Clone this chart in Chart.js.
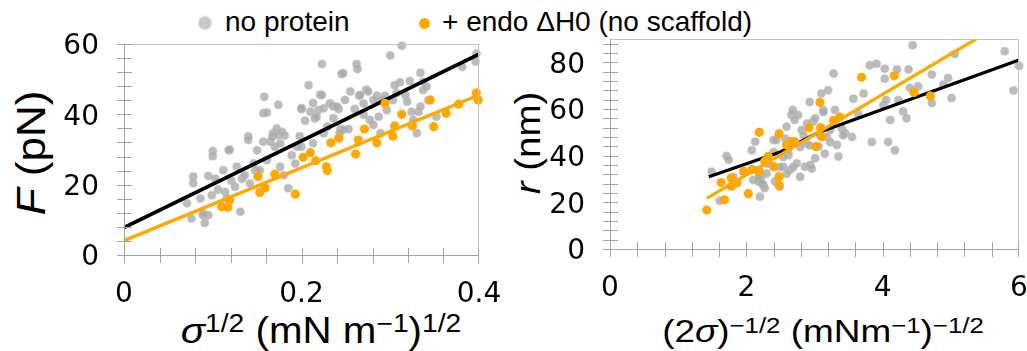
<!DOCTYPE html>
<html>
<head>
<meta charset="utf-8">
<script src="https://cdn.jsdelivr.net/npm/chart.js@4.4.1/dist/chart.umd.min.js"></script>
<style>
  html, body { margin: 0; padding: 0; background: #fff; }
  #wrap { position: relative; width: 1027px; height: 351px; overflow: hidden;
          font-family: "Liberation Sans", Arial, sans-serif; color: #000; }
  .box { position: absolute; top: 0; height: 351px; z-index: 2; }
  .txt { position: absolute; white-space: nowrap; line-height: 1; z-index: 1; }
  .txt sup { font-size: 0.7em; vertical-align: baseline; position: relative; top: -0.42em; }
  .dot { position: absolute; border-radius: 50%; z-index: 1; }
  .ax { position: absolute; z-index: 3; }
</style>
</head>
<body>
<div id="wrap">
  <div class="dot" style="left:199px;top:17px;width:12px;height:12px;background:#c8c8c8;box-shadow:0 0 2px 1px #dadada"></div>
  <div class="txt" style="left:225px;top:8px;font-size:28px">no protein</div>
  <div class="dot" style="left:419px;top:18px;width:11px;height:11px;background:#ffa800"></div>
  <div class="txt" style="left:442px;top:8px;font-size:28px">+ endo ΔH0 (no scaffold)</div>

  <div class="txt" style="left:31px;top:153px;font-size:40px;transform:translate(-50%,-50%) rotate(-90deg) scaleX(1.1)"><i>F</i> (pN)</div>
  <div class="txt" style="left:527px;top:143px;font-size:35px;transform:translate(-50%,-50%) rotate(-90deg) scaleX(1.1)"><i>r</i> (nm)</div>
  <div class="txt" style="left:321px;top:331px;font-size:36px;transform:translate(-50%,-50%) scaleX(1.12)"><i>σ</i><sup>1/2</sup> (mN m<sup>−1</sup>)<sup>1/2</sup></div>
  <div class="txt" style="left:823px;top:331px;font-size:31px;transform:translate(-50%,-50%) scaleX(1.19)">(2<i>σ</i>)<sup>−1/2</sup> (mNm<sup>−1</sup>)<sup>−1/2</sup></div>

  <div class="box" style="left:0;width:500px"><canvas id="leftChart"></canvas></div>
  <div class="box" style="left:500px;width:527px"><canvas id="rightChart"></canvas></div>
</div>

<script>
// left panel: F vs sigma^1/2
const leftGrayX = [0.071, 0.076, 0.078, 0.078, 0.086, 0.089, 0.091, 0.095, 0.095, 0.099, 0.100, 0.100, 0.103, 0.106, 0.112, 0.114, 0.116, 0.118, 0.121, 0.125, 0.127, 0.131, 0.133, 0.136, 0.140, 0.140, 0.142, 0.146, 0.148, 0.150, 0.153, 0.157, 0.158, 0.157, 0.161, 0.165, 0.167, 0.168, 0.170, 0.172, 0.174, 0.176, 0.176, 0.180, 0.185, 0.189, 0.193, 0.195, 0.198, 0.200, 0.204, 0.208, 0.210, 0.213, 0.215, 0.219, 0.221, 0.223, 0.225, 0.229, 0.236, 0.242, 0.244, 0.245, 0.247, 0.247, 0.253, 0.255, 0.260, 0.262, 0.263, 0.265, 0.270, 0.273, 0.275, 0.281, 0.285, 0.287, 0.289, 0.294, 0.300, 0.311, 0.313, 0.200, 0.213, 0.217, 0.223, 0.225, 0.232, 0.236, 0.240, 0.243, 0.249, 0.266, 0.270, 0.277, 0.281, 0.287, 0.292, 0.296, 0.303, 0.307, 0.317, 0.319, 0.322, 0.324, 0.326, 0.330, 0.332, 0.334, 0.334, 0.337, 0.341, 0.352, 0.381, 0.396, 0.397, 0.089, 0.119, 0.161, 0.174, 0.178, 0.181, 0.200, 0.305, 0.337, 0.343];
const leftGrayY = [14.7, 10.4, 22.3, 20.4, 16.1, 11.3, 9.1, 22.5, 11.3, 17.0, 29.6, 28.1, 21.7, 18.6, 24.1, 17.9, 16.1, 29.8, 21.1, 19.4, 25.1, 12.3, 21.7, 22.7, 33.8, 32.7, 20.3, 26.0, 24.1, 29.8, 24.1, 40.3, 45.0, 32.2, 27.0, 32.2, 33.6, 34.6, 30.8, 36.0, 34.1, 31.7, 25.1, 22.7, 19.0, 28.4, 26.0, 30.8, 33.8, 41.5, 38.2, 48.3, 40.7, 43.2, 38.8, 41.2, 45.6, 54.3, 34.6, 36.5, 42.2, 41.5, 35.8, 51.5, 51.7, 35.6, 35.8, 46.5, 41.5, 54.3, 52.9, 45.3, 39.9, 47.0, 46.5, 37.0, 45.3, 43.9, 34.6, 45.3, 56.7, 49.1, 59.5, 30.8, 31.8, 39.3, 45.5, 41.7, 43.1, 38.9, 42.2, 34.6, 44.1, 45.5, 43.1, 38.4, 44.1, 39.3, 44.1, 41.2, 44.1, 46.0, 45.5, 43.6, 49.5, 40.7, 38.4, 34.6, 40.7, 42.2, 51.8, 46.9, 47.9, 39.3, 53.5, 55.0, 57.3, 11.9, 29.9, 40.5, 42.7, 35.0, 34.0, 41.7, 48.3, 49.3, 44.0];
const leftOrangeX = [0.110, 0.117, 0.119, 0.151, 0.153, 0.159, 0.170, 0.193, 0.202, 0.210, 0.216, 0.228, 0.229, 0.233, 0.242, 0.261, 0.264, 0.271, 0.285, 0.294, 0.303, 0.305, 0.313, 0.325, 0.345, 0.349, 0.363, 0.377, 0.397, 0.399];
const leftOrangeY = [13.7, 13.6, 15.6, 22.3, 17.8, 19.1, 23.0, 17.3, 27.8, 29.1, 26.8, 25.1, 24.0, 31.9, 33.2, 28.7, 32.7, 35.8, 31.9, 43.1, 33.8, 36.7, 40.0, 36.7, 44.1, 36.5, 40.3, 42.9, 46.1, 44.1];
const leftBlackFitX = [0, 0.4];
const leftBlackFitY = [7.8, 57.1];
const leftOrangeFitX = [0, 0.4];
const leftOrangeFitY = [4.1, 45.5];

// right panel: r vs (2 sigma)^-1/2
const rightGrayX = [1.49, 1.61, 1.71, 1.74, 1.81, 2.08, 2.10, 2.13, 2.15, 2.18, 2.20, 2.22, 2.25, 2.27, 2.30, 2.32, 2.40, 2.42, 2.44, 2.49, 2.54, 2.57, 2.59, 2.62, 2.64, 2.66, 2.68, 2.71, 2.74, 2.76, 2.79, 2.81, 2.86, 2.88, 2.93, 2.94, 2.98, 3.01, 3.06, 3.10, 3.13, 3.15, 3.18, 3.20, 3.23, 3.28, 3.30, 3.33, 3.35, 3.40, 3.45, 3.55, 3.57, 3.64, 3.72, 3.81, 3.84, 3.91, 4.01, 4.03, 4.03, 4.05, 4.08, 4.11, 4.18, 4.21, 4.23, 4.30, 4.35, 4.38, 4.40, 4.44, 4.52, 4.72, 4.72, 4.89, 4.96, 5.01, 5.06, 5.79, 5.92, 6.00, 2.18, 2.23, 2.30, 2.40, 2.49, 2.54, 2.59, 2.61, 2.69, 2.79, 2.84, 2.89, 2.93, 2.96, 3.01, 3.08, 3.13, 3.23, 3.42];
const rightGrayY = [33.1, 20.7, 39.9, 38.2, 30.9, 42.3, 29.6, 46.0, 33.9, 28.9, 22.4, 31.0, 27.4, 26.0, 32.4, 36.7, 46.7, 28.9, 46.7, 26.7, 35.3, 47.4, 52.4, 40.3, 33.9, 57.4, 59.6, 55.3, 36.7, 57.4, 31.0, 51.0, 35.3, 45.3, 63.0, 36.0, 54.6, 38.9, 43.9, 66.6, 59.6, 40.8, 48.0, 68.0, 51.0, 75.2, 59.6, 44.6, 39.6, 51.7, 49.6, 48.0, 64.4, 58.0, 66.6, 78.7, 45.9, 79.4, 61.7, 77.3, 73.0, 63.9, 45.9, 55.3, 42.3, 76.9, 63.9, 58.9, 56.0, 76.9, 69.0, 87.3, 69.7, 74.8, 62.6, 70.5, 73.3, 64.7, 83.6, 84.7, 67.9, 78.5, 30.9, 28.0, 36.6, 41.6, 35.1, 39.4, 32.2, 42.3, 35.1, 43.7, 48.7, 53.8, 44.4, 34.4, 56.0, 48.7, 58.7, 45.8, 48.7];
const rightOrangeX = [1.42, 1.68, 1.63, 1.78, 1.78, 1.86, 1.96, 2.03, 2.08, 2.19, 2.19, 2.27, 2.32, 2.40, 2.48, 2.48, 2.48, 2.59, 2.66, 2.71, 2.92, 3.02, 3.08, 3.09, 3.11, 3.28, 3.37, 3.69, 4.17, 4.46, 4.70];
const rightOrangeY = [16.7, 21.1, 28.5, 30.4, 26.9, 28.3, 33.3, 23.7, 34.0, 50.0, 33.3, 37.6, 39.7, 35.3, 49.4, 31.0, 27.4, 44.6, 46.0, 46.0, 52.0, 43.9, 62.8, 52.0, 48.1, 55.1, 56.5, 73.6, 74.2, 67.1, 65.6];
const rightBlackFitX = [1.45, 2.5, 3.05, 6];
const rightBlackFitY = [31.0, 41.6, 49.8, 81.0];
const rightOrangeFitX = [1.42, 5.37];
const rightOrangeFitY = [21.7, 90];

// axis ticks (minor marks) and the ones that carry a label
const leftXTicks = [0, 0.04, 0.08, 0.12, 0.16, 0.2, 0.24, 0.28, 0.32, 0.36, 0.4];
const leftXLabels = [0, 0.2, 0.4];
const leftYTicks = [0, 4, 8, 12, 16, 20, 24, 28, 32, 36, 40, 44, 48, 52, 56, 60];
const leftYLabels = [0, 20, 40, 60];
const rightXTicks = [0, 0.4, 0.8, 1.2, 1.6, 2, 2.4, 2.8, 3.2, 3.6, 4, 4.4, 4.8, 5.2, 5.6, 6];
const rightXLabels = [0, 2, 4, 6];
const rightYTicks = [0, 4, 8, 12, 16, 20, 24, 28, 32, 36, 40, 44, 48, 52, 56, 60, 64, 68, 72, 76, 80, 84, 88];
const rightYLabels = [0, 20, 40, 60, 80];

const GRAY = "rgba(168,168,168,0.78)";
const ORANGE = "#ffa800";
const AXIS = "#a2a2a2";
const FRAME = "#c2c2c2";

const toPoints = (xs, ys) => xs.map((x, i) => ({ x, y: ys[i] }));

function makeAxis(ticks, labels, fitSize, isX) {
  return {
    type: "linear",
    min: ticks[0],
    grid: { display: false, drawTicks: false },
    border: { display: false },
    afterBuildTicks: (axis) => {
      axis.ticks = ticks.map((v) => ({ value: v }));
    },
    afterFit: (axis) => {
      if (isX) axis.height = fitSize;
      else axis.width = fitSize;
      axis.paddingLeft = 0;
      axis.paddingRight = 0;
      axis.paddingTop = 0;
      axis.paddingBottom = 0;
    },
    ticks: {
      autoSkip: false,
      maxRotation: 0,
      padding: isX ? 23 : 25,
      labelOffset: isX ? 0 : 3,
      color: "#000",
      font: { family: "DejaVu Sans", size: 28 },
      callback: (v) => (labels.includes(v) ? String(v) : ""),
    },
  };
}

// frame, axes and crossing tick marks, placed from the chart's own scales
function addAxes(chart, offsetX) {
  const wrap = document.getElementById("wrap");
  const a = chart.chartArea;
  const sx = chart.scales.x;
  const sy = chart.scales.y;
  const add = (x, y, w, h, c) => {
    const d = document.createElement("div");
    d.className = "ax";
    d.style.cssText = `left:${x}px;top:${y}px;width:${w}px;height:${h}px;background:${c}`;
    wrap.appendChild(d);
  };
  const l = Math.round(offsetX + a.left);
  const r = Math.round(offsetX + a.right);
  const t = Math.round(a.top);
  const b = Math.round(a.bottom);
  add(l, t, r - l, 1, FRAME);
  add(r - 1, t, 1, b - t, FRAME);
  add(l, t, 1, b - t + 1, AXIS);
  add(l, b, r - l, 1, AXIS);
  sx.ticks.forEach((tk) => {
    const px = Math.round(offsetX + sx.getPixelForValue(tk.value));
    add(Math.min(px, r - 1), b - 7, 1, 15, AXIS);
  });
  sy.ticks.forEach((tk) => {
    const py = Math.round(sy.getPixelForValue(tk.value));
    add(l - 7, py, 15, 1, AXIS);
  });
}

function makeChart(id, grayX, grayY, orX, orY, bFitX, bFitY, oFitX, oFitY, opts) {
  const xAxis = makeAxis(opts.xTicks, opts.xLabels, opts.xHeight, true);
  xAxis.max = opts.xMax;
  const yAxis = makeAxis(opts.yTicks, opts.yLabels, opts.yWidth, false);
  yAxis.max = opts.yMax;
  return new Chart(document.getElementById(id), {
    type: "scatter",
    data: {
      datasets: [
        {
          data: toPoints(oFitX, oFitY),
          showLine: true,
          borderColor: ORANGE,
          borderWidth: opts.orangeLine,
          pointRadius: 0,
          order: 0,
        },
        {
          data: toPoints(orX, orY),
          backgroundColor: ORANGE,
          borderWidth: 0,
          pointRadius: 4.6,
          clip: false,
          order: 1,
        },
        {
          data: toPoints(bFitX, bFitY),
          showLine: true,
          borderColor: "#000",
          borderWidth: opts.blackLine,
          pointRadius: 0,
          order: 2,
        },
        {
          data: toPoints(grayX, grayY),
          backgroundColor: GRAY,
          borderColor: "rgba(190,190,190,0.45)",
          borderWidth: 1.5,
          pointRadius: 4,
          clip: false,
          order: 3,
        },
      ],
    },
    options: {
      responsive: true,
      maintainAspectRatio: false,
      animation: false,
      events: [],
      layout: { autoPadding: false, padding: opts.padding },
      plugins: { legend: { display: false }, tooltip: { enabled: false } },
      scales: { x: xAxis, y: yAxis },
    },
  });
}

const leftChart = makeChart("leftChart", leftGrayX, leftGrayY, leftOrangeX, leftOrangeY,
  leftBlackFitX, leftBlackFitY, leftOrangeFitX, leftOrangeFitY, {
    padding: { top: 44, right: 21, left: 0, bottom: 0 },
    xTicks: leftXTicks, xLabels: leftXLabels, xHeight: 96, xMax: 0.4,
    yTicks: leftYTicks, yLabels: leftYLabels, yWidth: 124, yMax: 60,
    blackLine: 3.6, orangeLine: 3.4,
  });

const rightChart = makeChart("rightChart", rightGrayX, rightGrayY, rightOrangeX, rightOrangeY,
  rightBlackFitX, rightBlackFitY, rightOrangeFitX, rightOrangeFitY, {
    padding: { top: 39, right: 8, left: 0, bottom: 0 },
    xTicks: rightXTicks, xLabels: rightXLabels, xHeight: 102, xMax: 6,
    yTicks: rightYTicks, yLabels: rightYLabels, yWidth: 110, yMax: 90,
    blackLine: 3.2, orangeLine: 3.2,
  });

addAxes(leftChart, 0);
addAxes(rightChart, 500);
</script>
</body>
</html>
